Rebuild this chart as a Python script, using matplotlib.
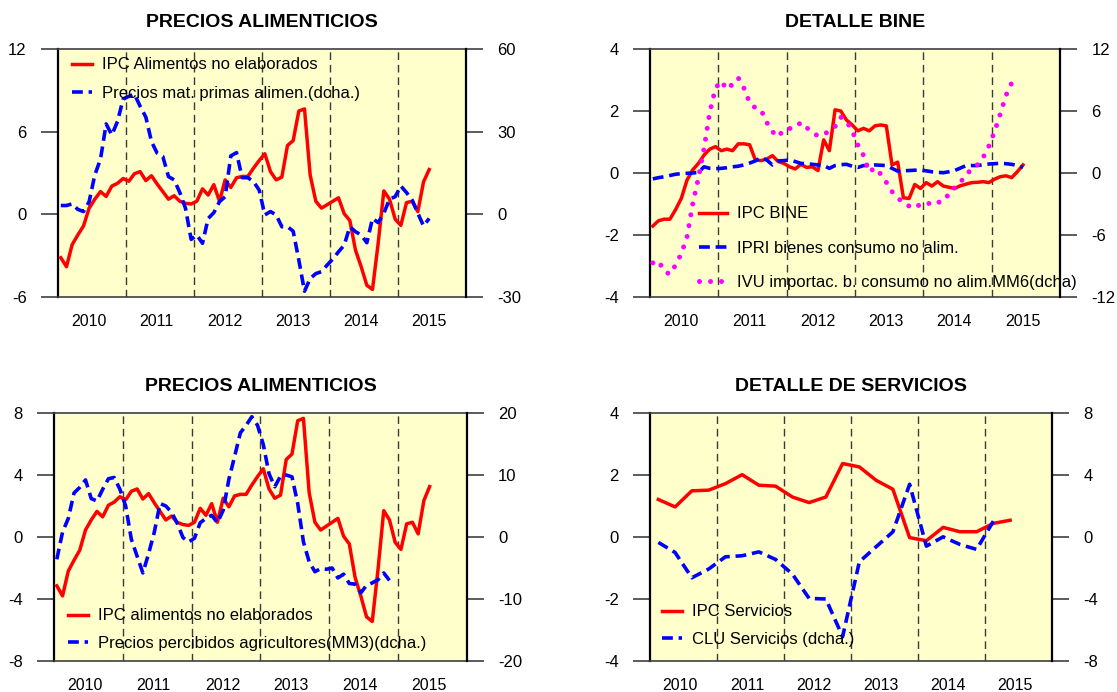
import numpy as np
import matplotlib.pyplot as plt

plt.rcParams['font.family'] = ['Liberation Sans', 'DejaVu Sans']
plt.rcParams['axes.unicode_minus'] = False

# datos mensuales ene-2010 .. jun-2015 (tasas interanuales, %)
ipc_alim = [-3.15, -3.8, -2.2, -1.5, -0.85, 0.45, 1.1, 1.65, 1.3, 2.05, 2.25, 2.6,
            2.4, 2.95, 3.1, 2.45, 2.8, 2.2, 1.65, 1.1, 1.35, 0.95, 0.8, 0.75,
            0.95, 1.85, 1.4, 2.15, 0.95, 2.5, 1.95, 2.65, 2.75, 2.75, 3.35, 3.9,
            4.4, 3.1, 2.5, 2.7, 5.0, 5.35, 7.5, 7.65, 2.85, 0.95, 0.45, 0.7,
            0.95, 1.2, 0.05, -0.45, -2.6, -3.8, -5.15, -5.45, -2.1, 1.7, 1.1, -0.35,
            -0.8, 0.85, 0.95, 0.2, 2.35, 3.25]

mat_primas = [3.2, 3.2, 3.8, 1.8, 1.0, 4.6, 14.3, 20.0, 32.8, 28.8, 33.7, 41.8,
              42.8, 43.6, 39.2, 35.3, 26.4, 22.2, 21.0, 13.7, 12.5, 7.9, 2.2, -9.1,
              -7.5, -10.5, -1.5, 0.6, 4.6, 6.4, 21.2, 22.4, 13.3, 13.3, 11.9, 8.8,
              -0.2, 1.0, -0.2, -4.5, -4.5, -6.1, -16.6, -27.9, -23.3, -21.5, -20.8, -18.4,
              -16.2, -13.6, -11.2, -4.5, -6.3, -7.5, -10.3, -1.5, -3.0, 0.4, 5.5, 6.4,
              10.3, 7.9, 5.2, 0.4, -4.2, -1.5]

ipc_bine = [-1.71, -1.54, -1.49, -1.49, -1.18, -0.82, -0.23, 0.1, 0.31, 0.58, 0.77, 0.85,
            0.72, 0.77, 0.72, 0.94, 0.94, 0.91, 0.42, 0.40, 0.45, 0.56, 0.37, 0.31,
            0.2, 0.13, 0.28, 0.18, 0.2, 0.08, 1.07, 0.72, 2.04, 2.0, 1.71, 1.55,
            1.36, 1.44, 1.36, 1.52, 1.55, 1.52, 0.26, 0.35, -0.8, -0.82, -0.37, -0.5,
            -0.31, -0.42, -0.28, -0.42, -0.46, -0.5, -0.41, -0.36, -0.31, -0.3, -0.28, -0.31,
            -0.2, -0.12, -0.09, -0.15, 0.04, 0.26]

ipri_bine = [-0.19, -0.15, -0.12, -0.08, -0.04, -0.02, -0.01, 0.0, 0.02, 0.2, 0.15, 0.14,
             0.15, 0.17, 0.2, 0.22, 0.26, 0.32, 0.39, 0.5, 0.42, 0.26, 0.39, 0.40,
             0.42, 0.37, 0.31, 0.30, 0.28, 0.26, 0.24, 0.15, 0.24, 0.27, 0.28, 0.22,
             0.18, 0.24, 0.24, 0.26, 0.25, 0.24, 0.15, 0.06, 0.07, 0.08, 0.09, 0.1,
             0.07, 0.04, 0.02, 0.01, 0.04, 0.08, 0.16, 0.24, 0.24, 0.24, 0.27, 0.29,
             0.30, 0.31, 0.30, 0.28, 0.24, 0.18]

# ene-2010 .. abr-2015
ivu_bine = [-8.7, -8.5, -9.5, -9.8, -8.9, -7.8, -6.2, -3.0, -0.5, 2.4, 5.9, 8.2,
            8.9, 8.1, 8.6, 9.2, 8.2, 6.8, 6.3, 6.1, 4.9, 4.0, 3.5, 4.2,
            4.3, 4.4, 4.9, 4.4, 3.9, 3.6, 3.7, 4.1, 4.5, 5.4, 5.0, 4.1,
            2.7, 1.7, 0.1, 0.5, -0.1, -0.9, -1.8, -2.4, -2.9, -3.2, -3.4, -3.0,
            -2.9, -3.0, -3.0, -2.3, -2.2, -1.4, -0.9, -0.2, 0.4, 0.8, 1.5, 2.6,
            4.0, 5.7, 7.5, 8.7]

# ene-2010 .. nov-2014
precios_agric = [-3.6, 0.8, 3.0, 7.1, 8.0, 9.2, 6.2, 5.8, 7.7, 9.4, 9.6, 7.7,
                 5.0, -0.4, -3.1, -5.8, -2.7, 0.8, 5.4, 5.0, 4.0, 2.2, -0.1, -0.8,
                 -0.2, 2.3, 3.0, 3.5, 2.3, 4.3, 9.3, 13.0, 16.8, 18.0, 19.4, 18.0,
                 14.9, 10.2, 8.1, 9.8, 10.0, 9.7, 5.4, -0.8, -4.0, -5.6, -5.1, -5.2,
                 -5.0, -6.6, -6.0, -7.5, -7.6, -9.0, -7.8, -7.4, -6.9, -5.8, -7.0]

# trimestrales 2010-I .. 2015-II
ipc_serv = [1.21, 0.97, 1.49, 1.51, 1.72, 2.01, 1.67, 1.64, 1.29, 1.11, 1.29,
            2.37, 2.26, 1.83, 1.54, -0.02, -0.12, 0.31, 0.17, 0.17, 0.44, 0.54]
# 2010-I .. 2015-I
clu_serv = [-0.35, -1.0, -2.63, -2.07, -1.28, -1.21, -0.96, -1.45, -2.39, -3.96, -4.0,
            -6.43, -1.6, -0.63, 0.33, 3.4, -0.59, 0.01, -0.48, -0.8, 1.02]

years = [2010, 2011, 2012, 2013, 2014, 2015]

FONDO = '#FFFFCC'
GRIS = '#404040'
ROJO = '#FF0000'
AZUL = '#0000FF'
ROSA = '#FF00FF'
DASH = (0, (3.0, 1.6))
DOTS = (0, (0.001, 2.2))


def mensual(serie):
    return 2010 + (np.arange(len(serie)) + 0.5) / 12


def trimestral(serie):
    return 2010 + (np.arange(len(serie)) + 0.5) / 4


def panel(rect, title, ylim, yticks, ylim2, yticks2):
    ax = fig.add_axes(rect)
    ax.set_facecolor(FONDO)
    ax.set_xlim(2010, 2016)
    ax.set_ylim(*ylim)
    ax.set_yticks(yticks)
    ax.set_xticks([y + 0.45 for y in years])
    ax.set_xticklabels([str(y) for y in years])
    ax.tick_params(axis='x', length=0, pad=12, labelsize=11.5)
    ax.tick_params(axis='y', length=12, width=1.2, color=GRIS, pad=10.5, labelsize=12)
    for yr in years[1:]:
        ax.axvline(yr, color='#3a3a3a', lw=1, ls=(0, (5.5, 3.5)), zorder=1)
    ax.spines['left'].set_color('black')
    ax.spines['left'].set_linewidth(1.6)
    ax.spines['right'].set_visible(False)
    for s in ['top', 'bottom']:
        ax.spines[s].set_color(GRIS)
        ax.spines[s].set_linewidth(1.2)
    ax.set_title(title, fontsize=14, fontweight='bold', pad=16)

    ax2 = ax.twinx()
    ax2.set_ylim(*ylim2)
    ax2.set_yticks(yticks2)
    ax2.tick_params(axis='y', length=12, width=1.2, color=GRIS, pad=10.5, labelsize=12)
    for s in ['top', 'bottom', 'left']:
        ax2.spines[s].set_visible(False)
    ax2.spines['right'].set_color('black')
    ax2.spines['right'].set_linewidth(1.6)
    return ax, ax2


def leyenda(ax2, lines, labels, anchor, hlen, spacing):
    ax2.legend(lines, labels, loc='upper left', bbox_to_anchor=anchor, frameon=False,
               fontsize=12, borderpad=0, borderaxespad=0, handlelength=hlen,
               handletextpad=0.6, labelspacing=spacing)


fig = plt.figure(figsize=(11.17, 6.92), dpi=100)

# panel 1
ax, ax2 = panel([0.0519, 0.5708, 0.3653, 0.3584], 'PRECIOS ALIMENTICIOS',
                (-6, 12), [-6, 0, 6, 12], (-30, 60), [-30, 0, 30, 60])
l1, = ax.plot(mensual(ipc_alim), ipc_alim, color=ROJO, lw=2.5, zorder=3)
l2, = ax2.plot(mensual(mat_primas), mat_primas, color=AZUL, lw=2.6, ls=DASH)
leyenda(ax2, [l1, l2], ['IPC Alimentos no elaborados', 'Precios mat. primas alimen.(dcha.)'],
        (0.034, 0.966), 1.2, 0.82)

# panel 2
ax, ax2 = panel([0.5819, 0.5708, 0.3671, 0.3584], 'DETALLE BINE',
                (-4, 4), [-4, -2, 0, 2, 4], (-12, 12), [-12, -6, 0, 6, 12])
l1, = ax.plot(mensual(ipc_bine), ipc_bine, color=ROJO, lw=2.5, zorder=3)
l2, = ax.plot(mensual(ipri_bine), ipri_bine, color=AZUL, lw=2.6, ls=DASH, zorder=3)
l3, = ax2.plot(mensual(ivu_bine), ivu_bine, color=ROSA, lw=3.6, ls=DOTS,
               dash_capstyle='round')
leyenda(ax2, [l1, l2, l3], ['IPC BINE', 'IPRI bienes consumo no alim.',
                            'IVU importac. b. consumo no alim.MM6(dcha)'],
        (0.1195, 0.365), 1.68, 1.15)

# panel 3
ax, ax2 = panel([0.0483, 0.0448, 0.3697, 0.3584], 'PRECIOS ALIMENTICIOS',
                (-8, 8), [-8, -4, 0, 4, 8], (-20, 20), [-20, -10, 0, 10, 20])
l1, = ax.plot(mensual(ipc_alim), ipc_alim, color=ROJO, lw=2.5, zorder=3)
l2, = ax2.plot(mensual(precios_agric), precios_agric, color=AZUL, lw=2.6, ls=DASH)
leyenda(ax2, [l1, l2], ['IPC alimentos no elaborados',
                        'Precios percibidos agricultores(MM3)(dcha.)'],
        (0.034, 0.212), 1.2, 0.76)

# panel 4
ax, ax2 = panel([0.5819, 0.0448, 0.3599, 0.3584], 'DETALLE DE SERVICIOS',
                (-4, 4), [-4, -2, 0, 2, 4], (-8, 8), [-8, -4, 0, 4, 8])
l1, = ax.plot(trimestral(ipc_serv), ipc_serv, color=ROJO, lw=2.5, zorder=3)
l2, = ax2.plot(trimestral(clu_serv), clu_serv, color=AZUL, lw=2.6, ls=DASH)
leyenda(ax2, [l1, l2], ['IPC Servicios', 'CLU Servicios (dcha.)'],
        (0.03, 0.228), 1.2, 0.76)

fig.savefig('out.png', dpi=100)
